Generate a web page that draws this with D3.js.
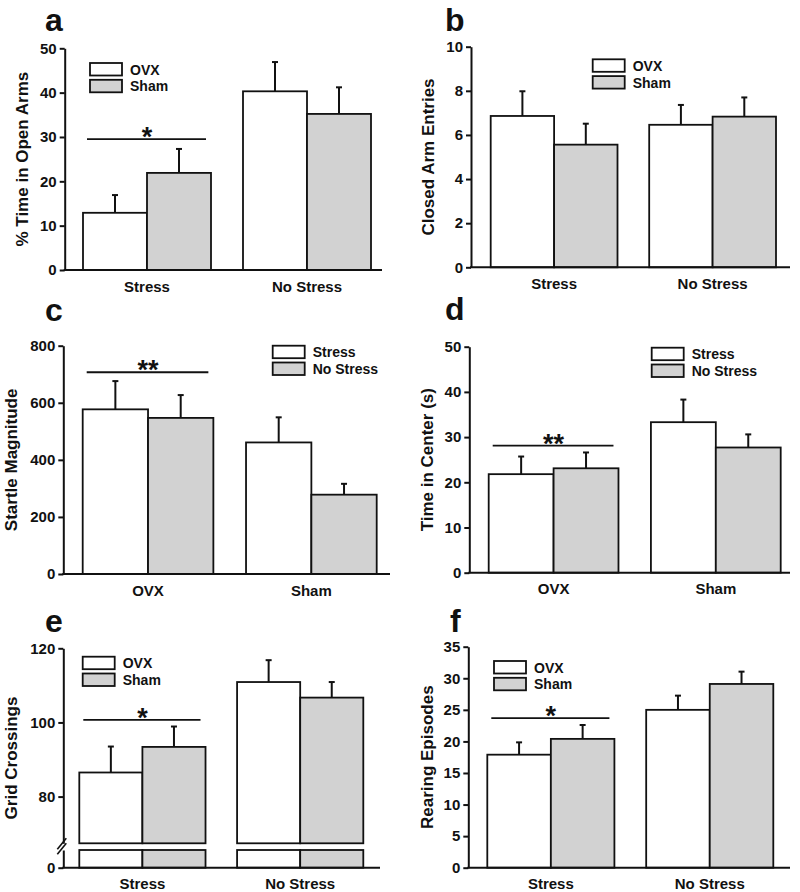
<!DOCTYPE html>
<html>
<head>
<meta charset="utf-8">
<script src="https://cdn.jsdelivr.net/npm/d3@7"></script>
<style>
  html, body { margin: 0; padding: 0; background: #fff; }
  svg { display: block; }
  text { font-family: "Liberation Sans", Arial, sans-serif; font-weight: bold; fill: #111; }
</style>
</head>
<body>
<svg id="chart" width="800" height="892"></svg>
<script>
// ---------------- DATA ----------------
const panelLetters = ["a", "b", "c", "d", "e", "f"];
const yTitles = ["% Time in Open Arms", "Closed Arm Entries", "Startle Magnitude",
                 "Time in Center (s)", "Grid Crossings", "Rearing Episodes"];

const stressCategories = ["Stress", "No Stress"];
const hormoneCategories = ["OVX", "Sham"];
const hormoneSeries = ["OVX", "Sham"];
const stressSeries = ["Stress", "No Stress"];

// values: [category][series]
const meansA = [[12.9, 21.9], [40.3, 35.2]];
const semA   = [[4.0, 5.4], [6.6, 6.0]];
const meansB = [[6.86, 5.56], [6.46, 6.83]];
const semB   = [[1.12, 0.95], [0.9, 0.87]];
const meansC = [[577, 547], [461, 278]];
const semC   = [[99, 80], [88, 38]];
const meansD = [[21.8, 23.1], [33.3, 27.7]];
const semD   = [[3.9, 3.5], [5.0, 2.9]];
const meansE = [[86.5, 93.4], [110.9, 106.7]];
const semE   = [[7.0, 5.5], [5.9, 4.2]];
const meansF = [[17.9, 20.4], [25.0, 29.1]];
const semF   = [[1.95, 2.2], [2.25, 1.95]];

const ticksA = [0, 10, 20, 30, 40, 50];
const ticksB = [0, 2, 4, 6, 8, 10];
const ticksC = [0, 200, 400, 600, 800];
const ticksD = [0, 10, 20, 30, 40, 50];
const ticksEUpper = [80, 100, 120];
const ticksELower = [0];
const ticksF = [0, 5, 10, 15, 20, 25, 30, 35];

// significance annotations (value on y scale)
const sigA = { value: 29.5, label: "*" };
const sigC = { value: 707, label: "**" };
const sigD = { value: 28.1, label: "**" };
const sigE = { value: 100.7, label: "*" };
const sigF = { value: 23.7, label: "*" };

// ---------------- LAYOUT ----------------
const panels = [
  { letter: panelLetters[0], title: yTitles[0], cats: stressCategories, series: hormoneSeries,
    means: meansA, sem: semA, ticks: ticksA, domain: [0, 50], sig: sigA,
    ax: 64.7, xEnd: 382, y0: 270, yTop: 48.3, barL: 83, barR: 371,
    legX: 90, legY: 63, letX: 45, letY: 31, titleX: 22 },
  { letter: panelLetters[1], title: yTitles[1], cats: stressCategories, series: hormoneSeries,
    means: meansB, sem: semB, ticks: ticksB, domain: [0, 10], sig: null,
    ax: 471, xEnd: 790, y0: 267.3, yTop: 46.7, barL: 490.7, barR: 776,
    legX: 592.7, legY: 59.3, letX: 445, letY: 31, titleX: 428 },
  { letter: panelLetters[2], title: yTitles[2], cats: hormoneCategories, series: stressSeries,
    means: meansC, sem: semC, ticks: ticksC, domain: [0, 800], sig: sigC,
    ax: 63.3, xEnd: 390, y0: 574, yTop: 345.7, barL: 82.7, barR: 376.7,
    legX: 272.7, legY: 345.7, letX: 45, letY: 321, titleX: 11 },
  { letter: panelLetters[3], title: yTitles[3], cats: hormoneCategories, series: stressSeries,
    means: meansD, sem: semD, ticks: ticksD, domain: [0, 50], sig: sigD,
    ax: 469.3, xEnd: 790, y0: 572.7, yTop: 346.7, barL: 488.7, barR: 780.7,
    legX: 651.7, legY: 347.7, letX: 445, letY: 320, titleX: 427 },
  { letter: panelLetters[4], title: yTitles[4], cats: stressCategories, series: hormoneSeries,
    means: meansE, sem: semE, ticks: ticksEUpper, lowerTicks: ticksELower,
    domain: [67.4, 120], broken: { upperBottom: 843.3, lowerTop: 850, lowerDomain: [0, 5] },
    sig: sigE,
    ax: 63.3, xEnd: 380, y0: 867.7, yTop: 648.3, barL: 79.3, barR: 363.3,
    legX: 82.7, legY: 656.7, letX: 45, letY: 632, titleX: 11 },
  { letter: panelLetters[5], title: yTitles[5], cats: stressCategories, series: hormoneSeries,
    means: meansF, sem: semF, ticks: ticksF, domain: [0, 35], sig: sigF,
    ax: 468.3, xEnd: 790, y0: 867.7, yTop: 646.7, barL: 487.3, barR: 773.3,
    legX: 494, legY: 661, letX: 450, letY: 632, titleX: 427 }
];

const fills = ["#ffffff", "#d2d2d2"];
const ink = "#111";

const svg = d3.select("#chart");
svg.append("rect").attr("width", 800).attr("height", 892).attr("fill", "#fff");

panels.forEach(p => {
  const g = svg.append("g");

  // y scale(s)
  let y, yLow = null;
  if (p.broken) {
    y = d3.scaleLinear().domain(p.domain).range([p.broken.upperBottom, p.yTop]);
    yLow = d3.scaleLinear().domain(p.broken.lowerDomain).range([p.y0, p.broken.lowerTop]);
  } else {
    y = d3.scaleLinear().domain(p.domain).range([p.y0, p.yTop]);
  }
  const barBase = p.broken ? p.broken.upperBottom : p.y0;

  // x scales
  const x = d3.scaleBand().domain(p.cats).range([p.barL, p.barR]).paddingInner(0.2).paddingOuter(0);
  const xs = d3.scaleBand().domain(p.series).range([0, x.bandwidth()]).padding(0);

  const rows = [];
  p.cats.forEach((c, ci) => p.series.forEach((s, si) => {
    rows.push({ c, s, si, mean: p.means[ci][si], sem: p.sem[ci][si] });
  }));

  // bars
  g.selectAll("rect.bar").data(rows).join("rect")
    .attr("class", "bar")
    .attr("x", d => x(d.c) + xs(d.s))
    .attr("width", xs.bandwidth())
    .attr("y", d => y(d.mean))
    .attr("height", d => barBase - y(d.mean))
    .attr("fill", d => fills[d.si])
    .attr("stroke", ink).attr("stroke-width", 1.8);

  if (p.broken) {
    g.selectAll("rect.low").data(rows).join("rect")
      .attr("class", "low")
      .attr("x", d => x(d.c) + xs(d.s))
      .attr("width", xs.bandwidth())
      .attr("y", yLow(p.broken.lowerDomain[1]))
      .attr("height", yLow(0) - yLow(p.broken.lowerDomain[1]))
      .attr("fill", d => fills[d.si])
      .attr("stroke", ink).attr("stroke-width", 1.8);
  }

  // error bars
  const eb = g.selectAll("g.err").data(rows).join("g").attr("class", "err");
  eb.append("line")
    .attr("x1", d => x(d.c) + xs(d.s) + xs.bandwidth() / 2)
    .attr("x2", d => x(d.c) + xs(d.s) + xs.bandwidth() / 2)
    .attr("y1", d => y(d.mean))
    .attr("y2", d => y(d.mean + d.sem))
    .attr("stroke", ink).attr("stroke-width", 2);
  eb.append("line")
    .attr("x1", d => x(d.c) + xs(d.s) + xs.bandwidth() / 2 - 3)
    .attr("x2", d => x(d.c) + xs(d.s) + xs.bandwidth() / 2 + 3)
    .attr("y1", d => y(d.mean + d.sem))
    .attr("y2", d => y(d.mean + d.sem))
    .attr("stroke", ink).attr("stroke-width", 2);

  // y axis
  const yAxis = d3.axisLeft(y).tickValues(p.ticks).tickSize(5).tickSizeOuter(0).tickPadding(3)
    .tickFormat(d3.format("d"));
  const ya = g.append("g").attr("transform", `translate(${p.ax},0)`).call(yAxis);
  if (p.broken) {
    const yAxisLow = d3.axisLeft(yLow).tickValues(p.lowerTicks).tickSize(5).tickSizeOuter(0).tickPadding(3)
      .tickFormat(d3.format("d"));
    const yl = g.append("g").attr("transform", `translate(${p.ax},0)`).call(yAxisLow);
    styleAxis(yl);
    // break marks
    const bm = (p.broken.upperBottom + p.broken.lowerTop) / 2;
    [-2.5, 2.5].forEach(off => {
      g.append("line")
        .attr("x1", p.ax - 6).attr("y1", bm + 5 + off)
        .attr("x2", p.ax + 3).attr("y2", bm - 6 + off)
        .attr("stroke", ink).attr("stroke-width", 1.6);
    });
  }
  styleAxis(ya);

  function styleAxis(sel) {
    sel.select(".domain").attr("stroke", ink).attr("stroke-width", 2);
    sel.selectAll(".tick line").attr("stroke", ink).attr("stroke-width", 2);
    sel.selectAll(".tick text").attr("font-size", 15).attr("font-weight", "bold")
      .attr("font-family", '"Liberation Sans", Arial, sans-serif').attr("fill", ink);
  }

  // x axis line
  g.append("line").attr("x1", p.ax - 1).attr("x2", p.xEnd).attr("y1", p.y0).attr("y2", p.y0)
    .attr("stroke", ink).attr("stroke-width", 2);
  const xAxis = d3.axisBottom(x).tickSize(0).tickPadding(11);
  const xa = g.append("g").attr("transform", `translate(0,${p.y0})`).call(xAxis);
  xa.select(".domain").remove();
  xa.selectAll(".tick text").attr("font-size", 15).attr("font-weight", "bold")
    .attr("font-family", '"Liberation Sans", Arial, sans-serif').attr("fill", ink);

  // y title
  const midY = (p.y0 + p.yTop) / 2;
  g.append("text")
    .attr("transform", `translate(${p.titleX},${midY}) rotate(-90)`)
    .attr("text-anchor", "middle").attr("dominant-baseline", "central")
    .attr("font-size", 17).text(p.title);

  // panel letter
  g.append("text").attr("x", p.letX).attr("y", p.letY).attr("font-size", 32).text(p.letter);

  // legend
  const lg = g.append("g").attr("transform", `translate(${p.legX},${p.legY})`);
  p.series.forEach((s, i) => {
    lg.append("rect").attr("x", 0).attr("y", i * 16.8).attr("width", 32).attr("height", 12.5)
      .attr("fill", fills[i]).attr("stroke", ink).attr("stroke-width", 1.8);
    lg.append("text").attr("x", 40).attr("y", i * 16.8 + 6.5)
      .attr("dominant-baseline", "central").attr("font-size", 14).text(s);
  });

  // significance
  if (p.sig) {
    const gx = x(p.cats[0]);
    const sy = y(p.sig.value);
    g.append("line").attr("x1", gx + 4).attr("x2", gx + x.bandwidth() - 5)
      .attr("y1", sy).attr("y2", sy).attr("stroke", ink).attr("stroke-width", 1.8);
    g.append("text").attr("x", gx + x.bandwidth() / 2).attr("y", sy + 7)
      .attr("text-anchor", "middle").attr("font-size", 27).text(p.sig.label);
  }
});
</script>
</body>
</html>
